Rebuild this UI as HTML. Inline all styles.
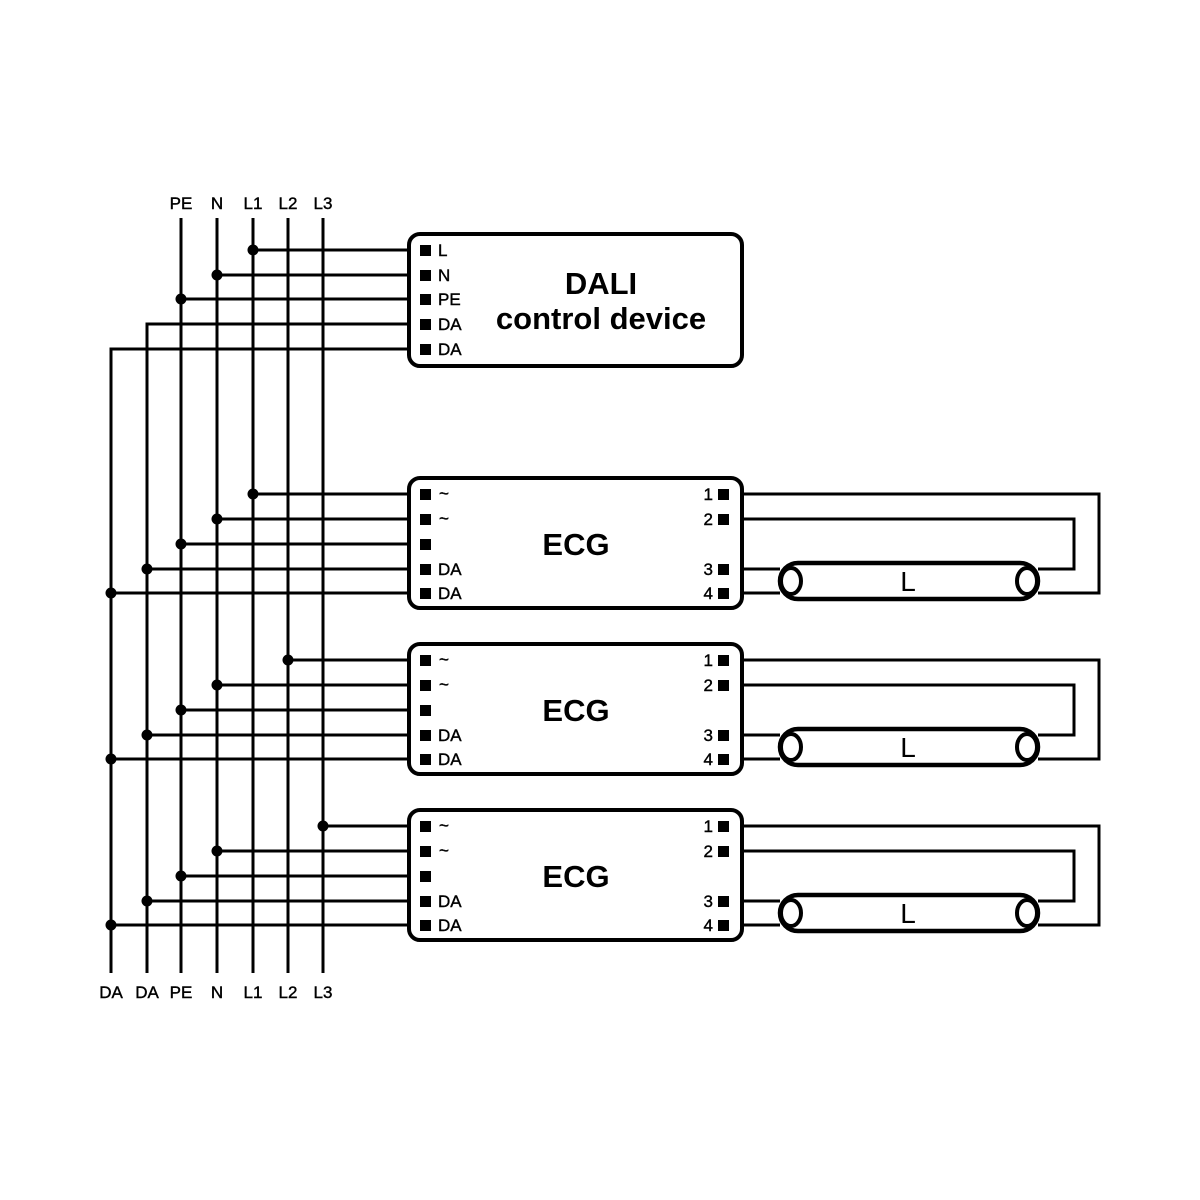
<!DOCTYPE html>
<html><head><style>body{margin:0;background:#fff}svg{display:block}</style></head><body>
<svg width="1200" height="1200" viewBox="0 0 1200 1200" xmlns="http://www.w3.org/2000/svg" font-family="Liberation Sans, sans-serif">
<g stroke="#000" stroke-width="3" fill="none">
<line x1="181" y1="218" x2="181" y2="973"/>
<line x1="217" y1="218" x2="217" y2="973"/>
<line x1="253" y1="218" x2="253" y2="973"/>
<line x1="288" y1="218" x2="288" y2="973"/>
<line x1="323" y1="218" x2="323" y2="973"/>
<polyline points="409,324 147,324 147,973"/>
<polyline points="409,349 111,349 111,973"/>
<line x1="253" y1="250" x2="409" y2="250"/>
<line x1="217" y1="275" x2="409" y2="275"/>
<line x1="181" y1="299" x2="409" y2="299"/>
<rect x="409" y="234" width="333" height="132" rx="11" stroke-width="4"/>
</g>
<g fill="#000">
<circle cx="253" cy="250" r="5.5"/><circle cx="217" cy="275" r="5.5"/><circle cx="181" cy="299" r="5.5"/>
<rect x="420" y="245" width="11" height="11"/><rect x="420" y="270" width="11" height="11"/><rect x="420" y="294" width="11" height="11"/><rect x="420" y="319" width="11" height="11"/><rect x="420" y="344" width="11" height="11"/>
</g>
<g font-size="17" fill="#000" stroke="#000" stroke-width="0.4">
<text x="438" y="256">L</text><text x="438" y="281">N</text><text x="438" y="305">PE</text><text x="438" y="330">DA</text><text x="438" y="355">DA</text>
</g>
<text x="601" y="294" font-size="31" font-weight="bold" text-anchor="middle">DALI</text>
<text x="601" y="329" font-size="31" font-weight="bold" text-anchor="middle">control device</text>
<g font-size="17" text-anchor="middle" stroke="#000" stroke-width="0.4">
<text x="181" y="209">PE</text><text x="217" y="209">N</text><text x="253" y="209">L1</text><text x="288" y="209">L2</text><text x="323" y="209">L3</text>
<text x="111" y="998">DA</text><text x="147" y="998">DA</text><text x="181" y="998">PE</text><text x="217" y="998">N</text><text x="253" y="998">L1</text><text x="288" y="998">L2</text><text x="323" y="998">L3</text>
</g>

<defs>
<g id="ecg">
 <g stroke="#000" stroke-width="3" fill="none">
  <line x1="217" y1="25" x2="409" y2="25"/>
  <line x1="181" y1="50" x2="409" y2="50"/>
  <line x1="147" y1="75" x2="409" y2="75"/>
  <line x1="111" y1="99" x2="409" y2="99"/>
  <rect x="409" y="-16" width="333" height="130" rx="11" stroke-width="4"/>
  <polyline points="742,0 1099,0 1099,99 1038,99"/>
  <polyline points="742,25 1074,25 1074,75 1038,75"/>
  <line x1="742" y1="75" x2="780" y2="75"/>
  <line x1="742" y1="99" x2="780" y2="99"/>
  <rect x="780" y="69" width="258" height="36" rx="18" stroke-width="4.5"/>
  <ellipse cx="791" cy="87" rx="10" ry="13" stroke-width="4"/>
  <ellipse cx="1027" cy="87" rx="10" ry="13" stroke-width="4"/>
 </g>
 <g fill="#000">
  <circle cx="217" cy="25" r="5.5"/><circle cx="181" cy="50" r="5.5"/><circle cx="147" cy="75" r="5.5"/><circle cx="111" cy="99" r="5.5"/>
  <rect x="420" y="-5" width="11" height="11"/><rect x="420" y="20" width="11" height="11"/><rect x="420" y="45" width="11" height="11"/><rect x="420" y="70" width="11" height="11"/><rect x="420" y="94" width="11" height="11"/>
  <rect x="718" y="-5" width="11" height="11"/><rect x="718" y="20" width="11" height="11"/><rect x="718" y="70" width="11" height="11"/><rect x="718" y="94" width="11" height="11"/>
 </g>
 <g font-size="17" stroke="#000" stroke-width="0.4">
  <text x="439" y="5">~</text><text x="439" y="30">~</text><text x="438" y="81">DA</text><text x="438" y="105">DA</text>
  <text x="713" y="6" text-anchor="end">1</text><text x="713" y="31" text-anchor="end">2</text><text x="713" y="81" text-anchor="end">3</text><text x="713" y="105" text-anchor="end">4</text>
 </g>
 <text x="576" y="61" font-size="31" font-weight="bold" text-anchor="middle">ECG</text>
 <text x="908" y="97" font-size="28" text-anchor="middle">L</text>
</g>
</defs>

<use href="#ecg" transform="translate(0,494)"/>
<use href="#ecg" transform="translate(0,660)"/>
<use href="#ecg" transform="translate(0,826)"/>
<g stroke="#000" stroke-width="3">
<line x1="253" y1="494" x2="409" y2="494"/>
<line x1="288" y1="660" x2="409" y2="660"/>
<line x1="323" y1="826" x2="409" y2="826"/>
</g>
<g fill="#000">
<circle cx="253" cy="494" r="5.5"/><circle cx="288" cy="660" r="5.5"/><circle cx="323" cy="826" r="5.5"/>
</g>
</svg>
</body></html>
